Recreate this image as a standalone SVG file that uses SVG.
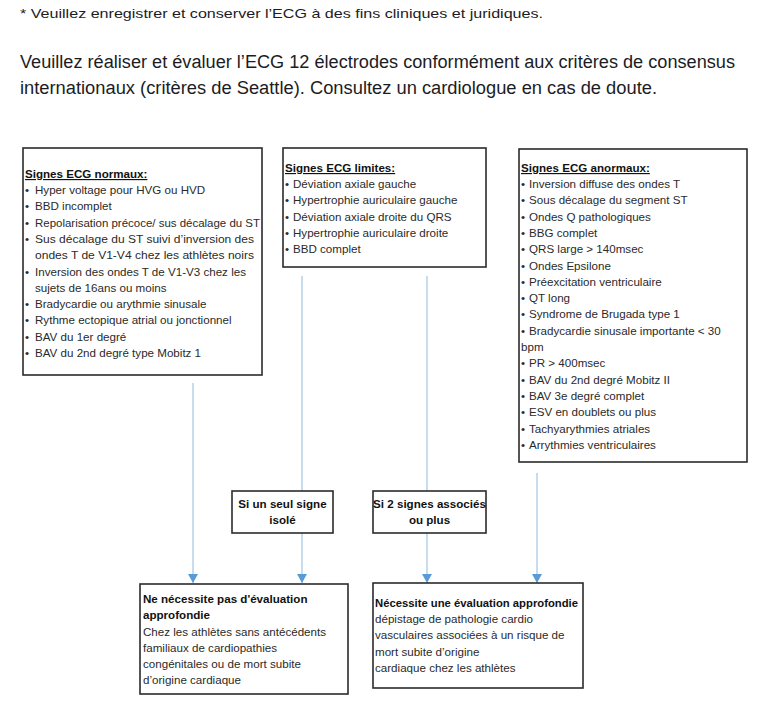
<svg xmlns="http://www.w3.org/2000/svg" width="771" height="704" viewBox="0 0 771 704">
<defs>
<style>
.hdr{font-family:"Liberation Sans",Arial,sans-serif;fill:#1c1c24}
.t{font-family:"Liberation Sans",Arial,sans-serif;font-size:11.6px;fill:#2a2a2a}
.b{font-weight:bold;fill:#111}
.u{text-decoration:underline}
.box{fill:#fff;stroke:#2b2b2b;stroke-width:1.6}
.ln{stroke:#a9c9e3;stroke-width:1.3;fill:none}
.ah{fill:#5b9bd5}
</style>
<marker id="arr" viewBox="0 0 9 10" refX="9" refY="5" markerWidth="9" markerHeight="10" markerUnits="userSpaceOnUse" orient="auto">
<path d="M0,0 L9,5 L0,10 Z" class="ah"/>
</marker>
</defs>
<rect width="771" height="704" fill="#fff"/>
<g id="header">
<text class="hdr" x="20" y="18" font-size="13" textLength="523" lengthAdjust="spacingAndGlyphs">* Veuillez enregistrer et conserver l’ECG à des fins cliniques et juridiques.</text>
<text class="hdr" x="20" y="68" font-size="18" textLength="715" lengthAdjust="spacingAndGlyphs">Veuillez réaliser et évaluer l’ECG 12 électrodes conformément aux critères de consensus</text>
<text class="hdr" x="20" y="94" font-size="18" textLength="637" lengthAdjust="spacingAndGlyphs">internationaux (critères de Seattle). Consultez un cardiologue en cas de doute.</text>
</g>
<g id="connectors">
<path class="ln" d="M193,383 V583" marker-end="url(#arr)"/>
<path class="ln" d="M302,276 V491"/>
<path class="ln" d="M302,533 V583" marker-end="url(#arr)"/>
<path class="ln" d="M427,276 V491"/>
<path class="ln" d="M427,533 V583" marker-end="url(#arr)"/>
<path class="ln" d="M537,473 V583" marker-end="url(#arr)"/>
</g>
<g id="normaux">
<rect class="box" x="23" y="148" width="239" height="227"/>
<text class="t b u" x="25" y="178">Signes ECG normaux:</text>
<g class="t">
<text x="25" y="194">•</text><text x="35" y="194">Hyper voltage pour HVG ou HVD</text>
<text x="25" y="210">•</text><text x="35" y="210">BBD incomplet</text>
<text x="25" y="227">•</text><text x="35" y="227" textLength="225" lengthAdjust="spacingAndGlyphs">Repolarisation précoce/ sus décalage du ST</text>
<text x="25" y="243">•</text><text x="35" y="243" textLength="219" lengthAdjust="spacingAndGlyphs">Sus décalage du ST suivi d’inversion des</text>
<text x="35" y="259" textLength="219" lengthAdjust="spacingAndGlyphs">ondes T de V1-V4 chez les athlètes noirs</text>
<text x="25" y="276">•</text><text x="35" y="276">Inversion des ondes T de V1-V3 chez les</text>
<text x="35" y="292">sujets de 16ans ou moins</text>
<text x="25" y="308">•</text><text x="35" y="308">Bradycardie ou arythmie sinusale</text>
<text x="25" y="324">•</text><text x="35" y="324">Rythme ectopique atrial ou jonctionnel</text>
<text x="25" y="341">•</text><text x="35" y="341">BAV du 1er degré</text>
<text x="25" y="357">•</text><text x="35" y="357">BAV du 2nd degré type Mobitz 1</text>
</g>
</g>
<g id="limites">
<rect class="box" x="283" y="148" width="203" height="119"/>
<text class="t b u" x="285" y="172">Signes ECG limites:</text>
<g class="t">
<text x="285" y="188">•</text><text x="293" y="188">Déviation axiale gauche</text>
<text x="285" y="204">•</text><text x="293" y="204">Hypertrophie auriculaire gauche</text>
<text x="285" y="221">•</text><text x="293" y="221">Déviation axiale droite du QRS</text>
<text x="285" y="237">•</text><text x="293" y="237">Hypertrophie auriculaire droite</text>
<text x="285" y="253">•</text><text x="293" y="253">BBD complet</text>
</g>
</g>
<g id="anormaux">
<rect class="box" x="519" y="149" width="228" height="313"/>
<text class="t b u" x="521" y="172">Signes ECG anormaux:</text>
<g class="t">
<text x="521" y="188">•</text><text x="529" y="188">Inversion diffuse des ondes T</text>
<text x="521" y="204">•</text><text x="529" y="204">Sous décalage du segment ST</text>
<text x="521" y="221">•</text><text x="529" y="221">Ondes Q pathologiques</text>
<text x="521" y="237">•</text><text x="529" y="237">BBG complet</text>
<text x="521" y="253">•</text><text x="529" y="253">QRS large &gt; 140msec</text>
<text x="521" y="270">•</text><text x="529" y="270">Ondes Epsilone</text>
<text x="521" y="286">•</text><text x="529" y="286">Préexcitation ventriculaire</text>
<text x="521" y="302">•</text><text x="529" y="302">QT long</text>
<text x="521" y="318">•</text><text x="529" y="318">Syndrome de Brugada type 1</text>
<text x="521" y="335">•</text><text x="529" y="335">Bradycardie sinusale importante &lt; 30</text>
<text x="521" y="351">bpm</text>
<text x="521" y="367">•</text><text x="529" y="367">PR &gt; 400msec</text>
<text x="521" y="384">•</text><text x="529" y="384">BAV du 2nd degré Mobitz II</text>
<text x="521" y="400">•</text><text x="529" y="400">BAV 3e degré complet</text>
<text x="521" y="416">•</text><text x="529" y="416">ESV en doublets ou plus</text>
<text x="521" y="433">•</text><text x="529" y="433">Tachyarythmies atriales</text>
<text x="521" y="449">•</text><text x="529" y="449">Arrythmies ventriculaires</text>
</g>
</g>
<g id="seul">
<rect class="box" x="232" y="491" width="101" height="42"/>
<text class="t b" x="282.5" y="508" text-anchor="middle">Si un seul signe</text>
<text class="t b" x="282.5" y="524" text-anchor="middle">isolé</text>
</g>
<g id="deux">
<rect class="box" x="373" y="491" width="113" height="42"/>
<text class="t b" x="429.5" y="508" text-anchor="middle">Si 2 signes associés</text>
<text class="t b" x="429.5" y="524" text-anchor="middle">ou plus</text>
</g>
<g id="pas-eval">
<rect class="box" x="140" y="584" width="208" height="110"/>
<text class="t b" x="143" y="603">Ne nécessite pas d'évaluation</text>
<text class="t b" x="143" y="619">approfondie</text>
<text class="t" x="143" y="636">Chez les athlètes sans antécédents</text>
<text class="t" x="143" y="652">familiaux de cardiopathies</text>
<text class="t" x="143" y="668">congénitales ou de mort subite</text>
<text class="t" x="143" y="684">d’origine cardiaque</text>
</g>
<g id="eval">
<rect class="box" x="373" y="583" width="210" height="105"/>
<text class="t b" x="375" y="607" textLength="203" lengthAdjust="spacingAndGlyphs">Nécessite une évaluation approfondie</text>
<text class="t" x="375" y="623">dépistage de pathologie cardio</text>
<text class="t" x="375" y="639">vasculaires associées à un risque de</text>
<text class="t" x="375" y="656">mort subite d’origine</text>
<text class="t" x="375" y="672">cardiaque chez les athlètes</text>
</g>
</svg>
